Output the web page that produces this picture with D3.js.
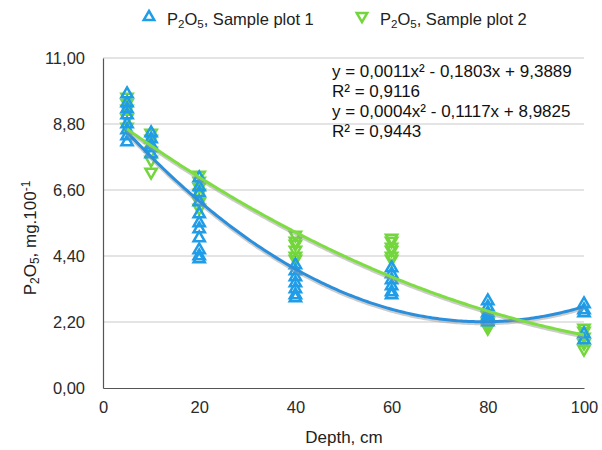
<!DOCTYPE html>
<html>
<head>
<meta charset="utf-8">
<script src="https://cdn.jsdelivr.net/npm/d3@7"></script>
<style>
  html, body { margin: 0; padding: 0; background: #fff; }
  svg { display: block; font-family: "Liberation Sans", Arial, Helvetica, sans-serif; }
</style>
</head>
<body>
<svg id="chart" width="602" height="450"></svg>
<script>
// ---- data ----
const depths = [5, 10, 20, 40, 60, 80, 100];
const plot1Values = [
  [9.8, 9.5, 9.3, 9.1, 8.8, 8.6, 8.4, 8.2],
  [8.5, 8.3, 8.1, 8.0, 7.8],
  [7.0, 6.7, 6.5, 6.2, 5.8, 5.5, 5.3, 5.0, 4.6, 4.4, 4.3],
  [4.1, 3.9, 3.7, 3.5, 3.3, 3.1, 3.0],
  [4.0, 3.8, 3.6, 3.4, 3.2, 3.1],
  [2.9, 2.7, 2.5, 2.4, 2.3, 2.2],
  [2.8, 2.6, 2.5, 1.8, 1.6]
];
const plot2Values = [
  [9.7, 9.5, 9.3, 9.0, 8.7],
  [8.5, 8.3, 7.9, 7.6, 7.2],
  [7.1, 6.9, 6.7, 6.5, 6.2, 6.0],
  [5.1, 4.9, 4.8, 4.6, 4.4, 4.3],
  [5.0, 4.9, 4.7, 4.6, 4.4, 4.3],
  [2.4, 2.2, 2.1, 2.0],
  [2.0, 1.9, 1.7, 1.5, 1.3]
];
const yTicks = [0, 2.2, 4.4, 6.6, 8.8, 11];
const xTicks = [0, 20, 40, 60, 80, 100];
const equations = [
  "y = 0,0011x² - 0,1803x + 9,3889",
  "R² = 0,9116",
  "y = 0,0004x² - 0,1117x + 8,9825",
  "R² = 0,9443"
];

const blue = "#1f9de8";
const green = "#72d63c";
const blueLine = "#2b8fdc";
const greenLine = "#7ddd42";

const svg = d3.select("#chart");
const x = d3.scaleLinear().domain([0, 100]).range([103, 584]);
const y = d3.scaleLinear().domain([0, 11]).range([388, 58]);

const fmt = v => v.toFixed(2).replace(".", ",");

// gridlines
svg.append("g").selectAll("line").data(yTicks.filter(d => d > 0)).join("line")
  .attr("x1", x(0)).attr("x2", x(100))
  .attr("y1", d => y(d)).attr("y2", d => y(d))
  .attr("stroke", "#c9c9c9").attr("stroke-width", 1);

// axes
const yAxis = d3.axisLeft(y).tickValues(yTicks).tickFormat(fmt).tickSize(0).tickPadding(18);
const gy = svg.append("g").attr("transform", `translate(${x(0)},0)`).call(yAxis);
const xAxis = d3.axisBottom(x).tickValues(xTicks).tickFormat(d3.format("d")).tickSize(0).tickPadding(13);
const gx = svg.append("g").attr("transform", `translate(0,${y(0)})`).call(xAxis);
[gx, gy].forEach(g => {
  g.select(".domain").attr("stroke", "#555").attr("stroke-width", 1.2);
  g.selectAll("text").attr("font-size", 16.5).attr("fill", "#2a2a2a")
    .attr("font-family", "'Liberation Sans', Arial, sans-serif");
});

// quadratic least squares trendline
function quadFit(xs, vals) {
  const pts = [];
  xs.forEach((d, i) => vals[i].forEach(v => pts.push([d, v])));
  let s = [0,0,0,0,0], t = [0,0,0];
  pts.forEach(([a, b]) => {
    for (let k = 0; k < 5; k++) s[k] += Math.pow(a, k);
    for (let k = 0; k < 3; k++) t[k] += b * Math.pow(a, k);
  });
  const M = [[s[0], s[1], s[2], t[0]], [s[1], s[2], s[3], t[1]], [s[2], s[3], s[4], t[2]]];
  for (let i = 0; i < 3; i++) {
    for (let j = i + 1; j < 3; j++) {
      const f = M[j][i] / M[i][i];
      for (let k = i; k < 4; k++) M[j][k] -= f * M[i][k];
    }
  }
  const c = [0, 0, 0];
  for (let i = 2; i >= 0; i--) {
    let sum = M[i][3];
    for (let k = i + 1; k < 3; k++) sum -= M[i][k] * c[k];
    c[i] = sum / M[i][i];
  }
  return xx => c[0] + c[1] * xx + c[2] * xx * xx;
}

const tri = d3.symbol().type(d3.symbolTriangle).size(55);

function drawPoints(vals, color, down) {
  const pts = [];
  depths.forEach((d, i) => vals[i].forEach(v => pts.push([d, v])));
  svg.append("g").selectAll("path").data(pts).join("path")
    .attr("d", tri)
    .attr("transform", p => `translate(${x(p[0])},${y(p[1])})${down ? " rotate(180)" : ""}`)
    .attr("fill", "none").attr("stroke", color).attr("stroke-width", 2.5);
}

function drawCurve(vals, color) {
  const f = quadFit(depths, vals);
  const xs = d3.range(5, 100.01, 0.5);
  const line = d3.line().x(d => x(d)).y(d => y(f(d)));
  svg.append("path").datum(xs).attr("d", line)
    .attr("fill", "none").attr("stroke", "#9a9a9a").attr("stroke-opacity", 0.5)
    .attr("stroke-width", 3).attr("transform", "translate(0,2)");
  svg.append("path").datum(xs).attr("d", line)
    .attr("fill", "none").attr("stroke", color).attr("stroke-width", 3);
}

drawPoints(plot2Values, green, true);
drawPoints(plot1Values, blue, false);
drawCurve(plot1Values, blueLine);
drawCurve(plot2Values, greenLine);

// equations
const eq = svg.append("g").attr("font-size", 17).attr("fill", "#111");
equations.forEach((t, i) => {
  eq.append("text").attr("x", 332).attr("y", 77 + i * 20).text(t);
});

// text with sub/superscripts
function subText(g, xPos, yPos, parts, size) {
  const t = g.append("text").attr("x", xPos).attr("y", yPos).attr("font-size", size).attr("fill", "#222");
  parts.forEach(p => {
    const ts = t.append("tspan").text(p[0]);
    if (p[1] === "sub") ts.attr("font-size", size * 0.7).attr("dy", 3);
    if (p[1] === "back") ts.attr("dy", -3);
    if (p[1] === "sup") ts.attr("font-size", size * 0.7).attr("dy", -6);
  });
  return t;
}

// legend
const lg = svg.append("g");
const legendSym = d3.symbol().type(d3.symbolTriangle).size(48);
lg.append("path").attr("d", legendSym)
  .attr("transform", "translate(149,17)").attr("fill", "none").attr("stroke", blue).attr("stroke-width", 2.5);
subText(lg, 167, 25, [["P"], ["2", "sub"], ["O", "back"], ["5", "sub"], [", Sample plot 1", "back"]], 16.5);
lg.append("path").attr("d", legendSym)
  .attr("transform", "translate(362,16) rotate(180)").attr("fill", "none").attr("stroke", green).attr("stroke-width", 2.5);
subText(lg, 380, 25, [["P"], ["2", "sub"], ["O", "back"], ["5", "sub"], [", Sample plot 2", "back"]], 16.5);

// axis titles
svg.append("text").attr("x", 344).attr("y", 443).attr("text-anchor", "middle")
  .attr("font-size", 17).attr("fill", "#222").text("Depth, cm");
const yt = subText(svg, 0, 0, [["P"], ["2", "sub"], ["O", "back"], ["5", "sub"], [", mg.100", "back"], ["-1", "sup"]], 17);
yt.attr("text-anchor", "middle").attr("transform", "translate(36,238) rotate(-90)");
</script>
</body>
</html>
